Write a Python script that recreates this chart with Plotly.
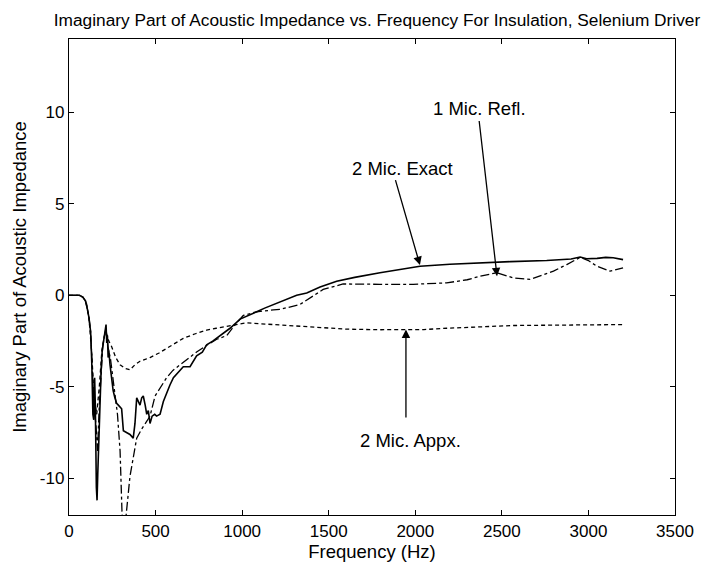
import plotly.graph_objects as go

# 2 Mic. Exact (solid)
exact_f = [0, 30, 60, 80, 95, 105, 115, 125, 132, 138, 143, 148, 152, 158, 162, 166, 170, 175, 180, 186,
           192, 200, 207, 214, 218, 222, 226, 230, 237, 245, 255, 265, 275, 285, 295, 304, 314, 330, 352,
           371, 381, 391, 400, 410, 420, 429, 440, 449, 458, 468, 480, 495, 506, 526, 545, 564, 583, 603,
           630, 660, 699, 737, 770, 795, 830, 872, 930, 988, 1040, 1084, 1130, 1180, 1250, 1315, 1373,
           1450, 1546, 1650, 1796, 1900, 2027, 2200, 2374, 2550, 2759, 2900, 2952, 2990, 3050, 3100,
           3143, 3183, 3200]
exact_z = [0, 0.02, 0, -0.1, -0.3, -0.7, -1.2, -2.0, -3.8, -6.5, -6.8, -4.5, -6.0, -10.5, -11.2, -9.8,
           -8.5, -6.8, -5.9, -4.0, -3.0, -2.5, -2.2, -1.6, -2.6, -2.2, -3.4, -3.0, -3.8, -4.5, -5.2, -5.6,
           -5.9, -6.0, -6.1, -6.2, -7.4, -7.5, -7.6, -7.8, -7.0, -5.6, -5.8, -6.0, -5.6, -5.5, -6.0, -6.5,
           -6.3, -7.0, -6.6, -6.5, -6.6, -6.5, -5.8, -5.3, -4.9, -4.5, -4.2, -3.9, -3.9, -3.3, -3.1, -2.7,
           -2.5, -2.2, -1.8, -1.3, -1.1, -0.9, -0.7, -0.5, -0.25, 0.0, 0.13, 0.45, 0.77, 0.98, 1.23, 1.4,
           1.59, 1.7, 1.78, 1.84, 1.9, 1.98, 2.09, 2.0, 2.02, 2.07, 2.05, 1.97, 1.95]

# 1 Mic. Refl. (dash-dot)
refl_f = [0, 30, 60, 80, 95, 105, 115, 125, 135, 145, 155, 165, 175, 185, 195, 205, 214, 225, 240, 260,
          280, 295, 310, 322, 329, 352, 391, 420, 468, 497, 530, 564, 600, 641, 690, 737, 800, 853, 911,
          960, 1007, 1084, 1180, 1219, 1334, 1400, 1468, 1583, 1700, 1796, 1988, 2181, 2300, 2374, 2470,
          2566, 2663, 2798, 2875, 2952, 3000, 3048, 3125, 3183, 3200]
refl_z = [0, 0.02, 0, -0.1, -0.3, -0.7, -1.2, -2.0, -4.0, -6.2, -7.0, -8.5, -6.0, -4.0, -2.8, -2.2, -1.8,
          -2.8, -3.5, -5.0, -6.5, -8.5, -13.0, -14.0, -12.1, -9.9, -7.8, -7.3, -6.6, -5.5, -5.0, -4.5,
          -4.1, -3.8, -3.4, -3.1, -2.7, -2.4, -2.2, -1.6, -1.1, -0.9, -0.8, -0.77, -0.5, -0.1, 0.32, 0.62,
          0.6, 0.6, 0.6, 0.68, 0.85, 1.04, 1.23, 0.95, 0.87, 1.32, 1.68, 2.07, 1.9, 1.59, 1.32, 1.48, 1.5]

# 2 Mic. Appx. (dotted)
appx_f = [0, 30, 60, 80, 100, 115, 130, 145, 160, 175, 190, 205, 214, 230, 246, 270, 295, 325, 352, 380,
          410, 440, 468, 520, 564, 610, 660, 730, 795, 850, 911, 970, 1026, 1100, 1180, 1260, 1334, 1450,
          1604, 1800, 1950, 2050, 2181, 2350, 2566, 2800, 3000, 3183, 3200]
appx_z = [0, 0.02, 0, -0.1, -0.4, -1.2, -3.0, -5.5, -6.5, -5.0, -3.0, -2.2, -2.0, -2.5, -2.8, -3.4, -3.8,
          -4.0, -4.07, -3.8, -3.6, -3.5, -3.4, -3.15, -2.9, -2.6, -2.35, -2.1, -1.9, -1.8, -1.7, -1.6,
          -1.5, -1.55, -1.6, -1.65, -1.7, -1.75, -1.85, -1.88, -1.89, -1.87, -1.8, -1.72, -1.65, -1.63,
          -1.61, -1.6, -1.6]

x_ticks = [0, 500, 1000, 1500, 2000, 2500, 3000, 3500]
y_ticks = [-10, -5, 0, 5, 10]

FONT = "Liberation Sans, Arial, Helvetica, sans-serif"

# the page body adds an 8px margin, so the figure is sized/offset to compensate
W, H = 704, 562

fig = go.Figure()
fig.add_trace(go.Scatter(x=appx_f, y=appx_z, mode="lines", name="2 Mic. Appx.",
                         line=dict(color="black", width=1.3, dash="4px,3px")))
fig.add_trace(go.Scatter(x=refl_f, y=refl_z, mode="lines", name="1 Mic. Refl.",
                         line=dict(color="black", width=1.3, dash="dashdot")))
fig.add_trace(go.Scatter(x=exact_f, y=exact_z, mode="lines", name="2 Mic. Exact",
                         line=dict(color="black", width=1.6)))

arrows = [
    # (head_x, head_y, tail_x, tail_y)
    (2027, 1.65, 1883, 6.37),
    (2472, 1.04, 2368, 9.6),
    (1946, -1.87, 1946, -6.76),
]
for hx, hy, tx, ty in arrows:
    fig.add_annotation(x=hx, y=hy, ax=tx, ay=ty, xref="x", yref="y", axref="x", ayref="y",
                       text="", showarrow=True, arrowhead=2, arrowsize=1.3, arrowwidth=1.3,
                       arrowcolor="black")

labels = [
    ("2 Mic. Exact", 1926, 6.95),
    ("1 Mic. Refl.", 2368, 10.2),
    ("2 Mic. Appx.", 1970, -7.95),
]
for txt, lx, ly in labels:
    fig.add_annotation(x=lx, y=ly, xref="x", yref="y", text=txt, showarrow=False,
                       font=dict(family=FONT, size=18.5, color="black"))

axis_common = dict(showgrid=False, zeroline=False, showline=True, linecolor="black", linewidth=1.3,
                   mirror="ticks", ticks="inside", ticklen=5, tickwidth=1, tickcolor="black",
                   automargin=False,
                   tickfont=dict(family=FONT, size=17, color="black"))

fig.update_layout(
    width=W, height=H,
    margin=dict(l=61, r=37, t=31, b=55),
    paper_bgcolor="white", plot_bgcolor="white",
    showlegend=False,
    title=dict(text="Imaginary Part of Acoustic Impedance vs. Frequency For Insulation, Selenium Driver",
               x=(377 - 8) / W, xref="container", xanchor="center", y=1 - 11.5 / H, yref="container",
               yanchor="middle",
               font=dict(family=FONT, size=17.3, color="black")),
    xaxis=dict(range=[0, 3500], tickvals=x_ticks, ticktext=[str(v) for v in x_ticks],
               title=dict(text="Frequency (Hz)", font=dict(family=FONT, size=18.5, color="black"), standoff=4),
               **axis_common),
    yaxis=dict(range=[-12, 14], tickvals=y_ticks, ticktext=[str(v) for v in y_ticks],
               title=dict(text="Imaginary Part of Acoustic Impedance", font=dict(family=FONT, size=18.5, color="black"),
                          standoff=8),
               **axis_common),
)

fig.write_html("out.html")
